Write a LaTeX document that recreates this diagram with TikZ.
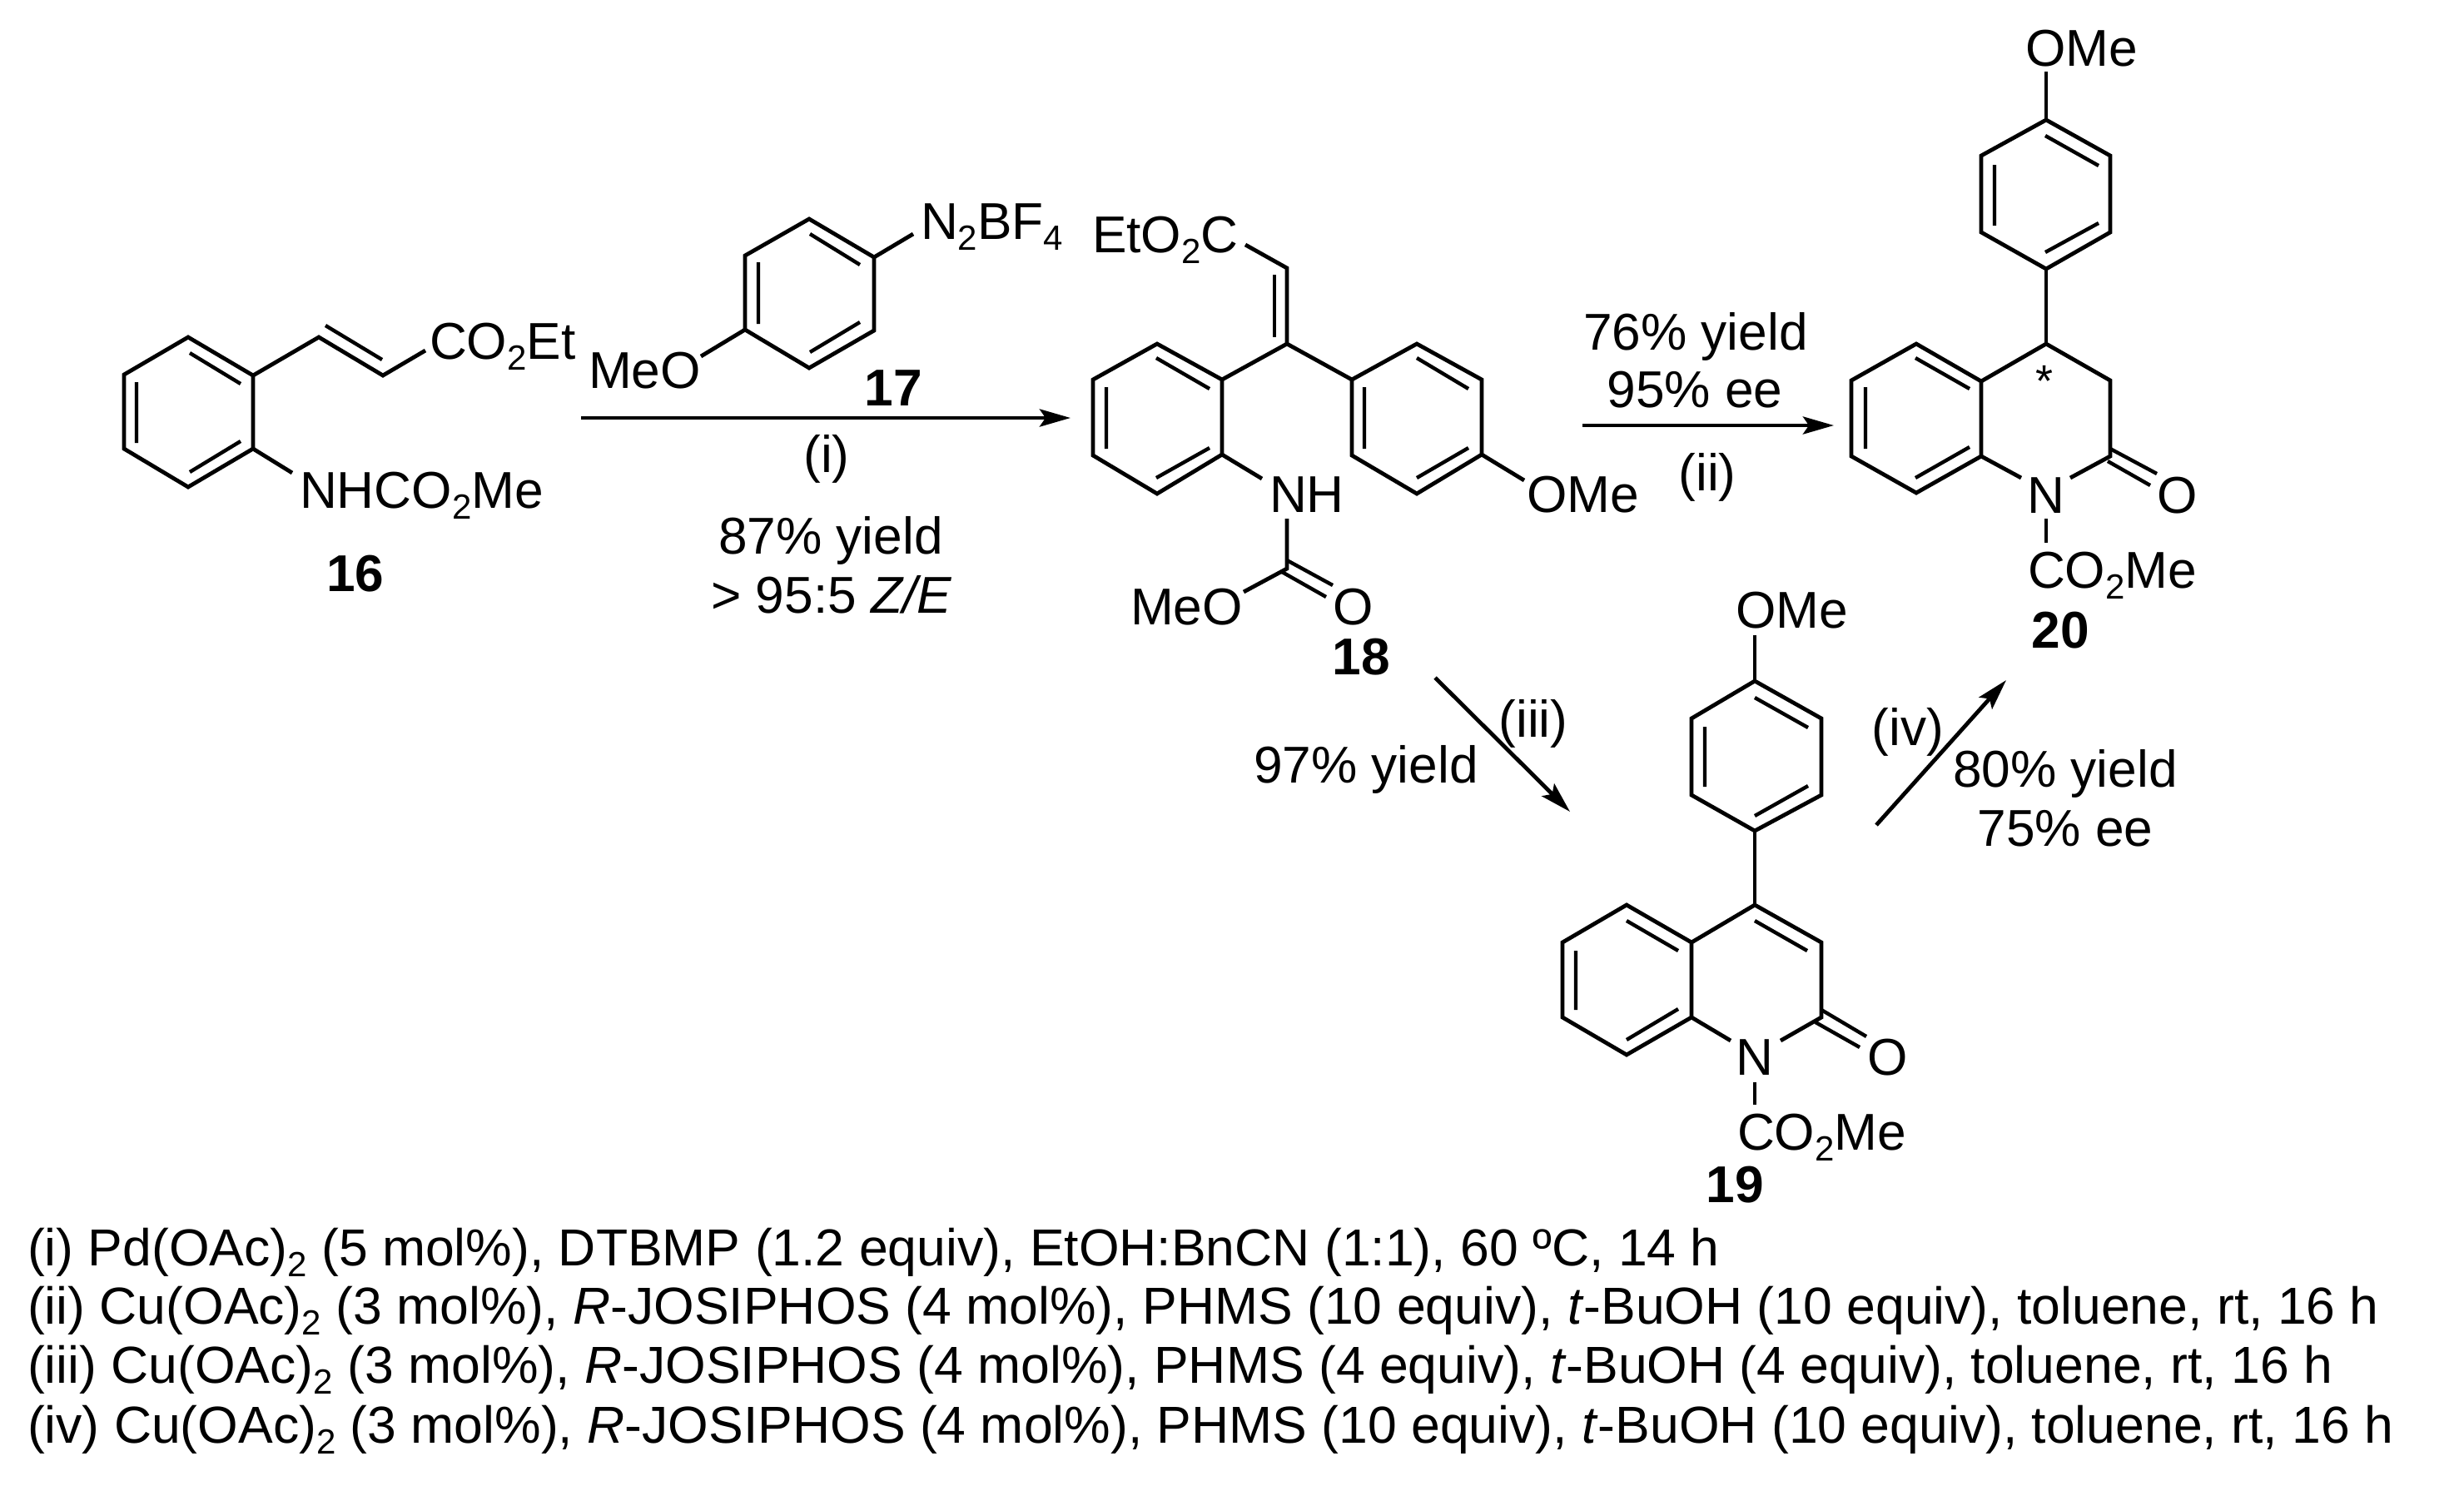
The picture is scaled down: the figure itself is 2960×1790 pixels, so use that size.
\documentclass[tikz,border=0pt]{standalone}
\usepackage{fontspec}
\setmainfont{Liberation Sans}
\usetikzlibrary{arrows.meta}
\newcommand{\sbt}[1]{\raisebox{-0.22em}{\fontsize{21pt}{22pt}\selectfont #1}}
\tikzset{
  bond/.style={line width=2.4pt,line join=miter,black},
  inner/.style={line width=2.2pt,black},
  rxn/.style={line width=2.4pt,black,-{Stealth[length=18.5pt,width=10.5pt,inset=3.5pt]}},
  txt/.style={inner sep=0pt,outer sep=0pt,anchor=base west,font=\fontsize{31.1pt}{32pt}\selectfont},
  ctr/.style={inner sep=0pt,outer sep=0pt,anchor=base,font=\fontsize{31.1pt}{32pt}\selectfont},
  lbl/.style={inner sep=0pt,outer sep=0pt,anchor=base,font=\fontsize{31.1pt}{32pt}\selectfont\bfseries},
  cond/.style={inner sep=0pt,outer sep=0pt,anchor=base west,font=\fontsize{31.25pt}{32pt}\selectfont}
}
\begin{document}
\begin{tikzpicture}[x=0.5pt,y=-0.5pt]
\useasboundingbox (0,0) rectangle (2960,1790);
\fill[white] (0,0) rectangle (2960,1790);
% --- 16
\draw[bond] (226,405)--(304,451)--(304,539)--(226,585)--(149,539)--(149,450)--cycle;
\draw[inner] (228,424)--(289,461) (164,459)--(164,532) (228,567)--(289,530);
\draw[bond] (304,451)--(383,405)--(460,451)--(511,421);
\draw[inner] (391,391)--(459,432);
\draw[bond] (304,539)--(351,568);
\node[txt] (a16co) at (516,431) {CO\sbt{2}Et};
\node[txt] (a16nh) at (360,610) {NHCO\sbt{2}Me};
\node[lbl] (l16) at (427,710) {16};
% --- 17
\draw[bond] (972,263)--(1050,309)--(1050,397)--(972,442)--(895,396)--(895,307)--cycle;
\draw[inner] (973,281)--(1033,318) (911,315)--(911,389) (973,423)--(1033,387);
\draw[bond] (1050,309)--(1097,281) (895,396)--(842,428);
\node[txt] (a17n) at (1106,287) {N\sbt{2}BF\sbt{4}};
\node[txt] (a17o) at (707,466) {MeO};
\node[lbl] (l17) at (1073,487) {17};
% --- arrow i
\coordinate (ai1) at (698,502);
\coordinate (ai2) at (1286,502);
\draw[rxn] (ai1)--(ai2);
\node[ctr] (ti) at (993,567) {(i)};
\node[ctr] (t87) at (998,665) {87\% yield};
\node[ctr] (t95) at (999,736) {> 95:5 \textit{Z/E}};
% --- 18
\draw[bond] (1390,413)--(1468,456)--(1468,546)--(1390,593)--(1313,547)--(1313,456)--cycle;
\draw[inner] (1389,430)--(1453,467) (1329,465)--(1329,539) (1389,574)--(1453,538);
\draw[bond] (1468,456)--(1546,413)--(1624,456);
\draw[bond] (1546,413)--(1546,322)--(1496,294);
\draw[inner] (1531,330)--(1531,405);
\draw[bond] (1624,456)--(1702,413)--(1780,456)--(1780,546)--(1702,593)--(1624,547)--cycle;
\draw[inner] (1702,430)--(1764,467) (1639,465)--(1639,539) (1702,574)--(1764,538);
\draw[bond] (1780,546)--(1831,577) (1468,546)--(1516,575);
\draw[bond] (1546,623)--(1546,683)--(1494,711);
\draw[inner] (1546,673)--(1601,703) (1540,687)--(1593,717);
\node[txt] (a18e) at (1312,303) {EtO\sbt{2}C};
\node[txt] (a18o) at (1834,615) {OMe};
\node[txt] (a18n) at (1525,615) {NH};
\node[txt] (a18m) at (1358,750) {MeO};
\node[txt] (a18c) at (1601,750) {O};
\node[lbl] (l18) at (1635,810) {18};
% --- arrow ii
\coordinate (aii1) at (1901,511);
\coordinate (aii2) at (2203,511);
\draw[rxn] (aii1)--(aii2);
\node[ctr] (t76) at (2037,420) {76\% yield};
\node[ctr] (t95b) at (2036,489) {95\% ee};
\node[ctr] (tii) at (2051,589) {(ii)};
% --- 20
\draw[bond] (2458,144)--(2535,187)--(2535,279)--(2458,323)--(2380,279)--(2380,187)--cycle;
\draw[inner] (2457,163)--(2521,199) (2396,198)--(2396,271) (2457,303)--(2521,268);
\draw[bond] (2458,86)--(2458,144) (2458,323)--(2458,413);
\draw[bond] (2302,413)--(2380,458)--(2380,548)--(2302,592)--(2224,548)--(2224,457)--cycle;
\draw[inner] (2301,430)--(2366,467) (2241,465)--(2241,539) (2301,574)--(2366,537);
\draw[bond] (2380,458)--(2458,413)--(2535,457)--(2535,548)--(2487,574);
\draw[bond] (2380,548)--(2428,574);
\draw[inner] (2535,539)--(2591,569) (2532,554)--(2583,583);
\draw[bond] (2458,623)--(2458,652);
\node[txt] (a20o) at (2433,79) {OMe};
\node[ctr] (a20n) at (2458,616) {N};
\node[txt] (a20c) at (2591,616) {O};
\node[txt] (a20co) at (2436,706) {CO\sbt{2}Me};
\node[ctr,font=\fontsize{27pt}{27pt}\selectfont] (a20s) at (2456,476) {*};
\node[lbl] (l20) at (2475,778) {20};
% --- arrow iii, iv
\coordinate (aiii1) at (1724,814);
\coordinate (aiii2) at (1886,975);
\draw[rxn] (aiii1)--(aiii2);
\coordinate (aiv1) at (2254,991);
\coordinate (aiv2) at (2410,817);
\draw[rxn] (aiv1)--(aiv2);
\node[ctr] (tiii) at (1842,885) {(iii)};
\node[ctr] (t97) at (1641,940) {97\% yield};
\node[ctr] (tiv) at (2292,895) {(iv)};
\node[ctr] (t80) at (2481,945) {80\% yield};
\node[ctr] (t75) at (2481,1016) {75\% ee};
% --- 19
\draw[bond] (2108,818)--(2188,863)--(2188,955)--(2108,998)--(2032,955)--(2032,863)--cycle;
\draw[inner] (2108,838)--(2172,874) (2048,873)--(2048,945) (2108,980)--(2172,944);
\draw[bond] (2108,763)--(2108,818) (2108,998)--(2108,1087);
\draw[bond] (1954,1087)--(2032,1132)--(2032,1222)--(1954,1267)--(1877,1222)--(1877,1132)--cycle;
\draw[inner] (1954,1106)--(2016,1142) (1893,1142)--(1893,1213) (1954,1249)--(2016,1212);
\draw[bond] (2032,1132)--(2108,1087)--(2188,1132)--(2188,1222)--(2139,1250);
\draw[inner] (2108,1106)--(2171,1142);
\draw[bond] (2032,1222)--(2079,1250);
\draw[inner] (2188,1213)--(2242,1245) (2181,1228)--(2234,1258);
\draw[bond] (2108,1300)--(2108,1327);
\node[txt] (a19o) at (2085,754) {OMe};
\node[ctr] (a19n) at (2108,1291) {N};
\node[txt] (a19c) at (2243,1291) {O};
\node[txt] (a19co) at (2087,1381) {CO\sbt{2}Me};
\node[lbl] (l19) at (2084,1444) {19};
% --- conditions
\node[cond] (c1) at (33,1520) {(i) Pd(OAc)\sbt{2} (5 mol\%), DTBMP (1.2 equiv), EtOH:BnCN (1:1), 60 ºC, 14 h};
\node[cond] (c2) at (33,1590) {(ii) Cu(OAc)\sbt{2} (3 mol\%), \textit{R}-JOSIPHOS (4 mol\%), PHMS (10 equiv), \textit{t}-BuOH (10 equiv), toluene, rt, 16 h};
\node[cond] (c3) at (33,1661) {(iii) Cu(OAc)\sbt{2} (3 mol\%), \textit{R}-JOSIPHOS (4 mol\%), PHMS (4 equiv), \textit{t}-BuOH (4 equiv), toluene, rt, 16 h};
\node[cond] (c4) at (33,1733) {(iv) Cu(OAc)\sbt{2} (3 mol\%), \textit{R}-JOSIPHOS (4 mol\%), PHMS (10 equiv), \textit{t}-BuOH (10 equiv), toluene, rt, 16 h};
\end{tikzpicture}
\end{document}
